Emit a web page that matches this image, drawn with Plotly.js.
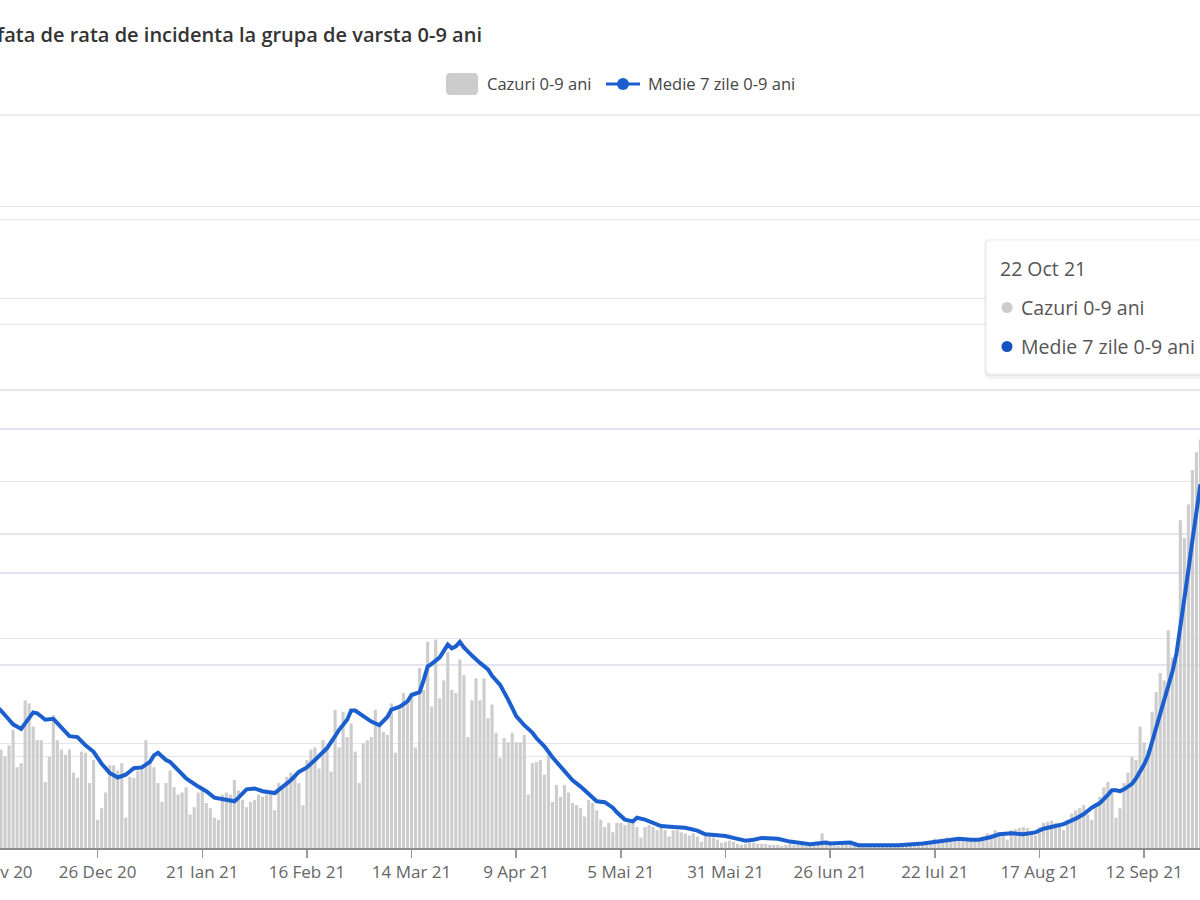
<!DOCTYPE html>
<html><head><meta charset="utf-8">
<script src="https://cdn.plot.ly/plotly-3.0.1.min.js"></script>
<style>
html,body{margin:0;padding:0;width:1200px;height:900px;overflow:hidden;background:#fff;}
#chart{position:absolute;left:-100px;top:0;width:1450px;height:900px;}
</style></head><body><div id="chart"></div>
<script>
// ---- Data: daily cases (bars), one array per month ----
const cazuriDec20 = [92,94,87,98,113,77,81,141,138,116,103,103,63,87,127,103,94,89,94,72,67,92,91,62,84,27,38,53,79,79,74];
const cazuriIan21 = [81,29,68,67,74,76,103,84,77,62,44,62,74,58,51,53,58,32,39,53,55,43,38,29,27,51,53,51,65,55,46];
const cazuriFeb21 = [39,44,46,51,49,51,51,36,62,58,68,72,68,62,41,84,94,96,76,103,96,73,132,96,130,106,119,92];
const cazuriMar21 = [62,100,103,106,132,116,111,108,138,91,132,148,138,146,96,172,151,197,135,199,143,160,187,151,148,180,165,106,141,162,141];
const cazuriApr21 = [162,124,137,110,86,105,101,110,101,101,108,51,81,82,84,70,89,44,60,49,60,53,43,41,38,30,46,43,36,27];
const cazuriMai21 = [20,24,15,24,24,22,24,25,20,10,20,22,20,17,20,17,11,17,17,15,14,12,14,11,6,11,11,10,8,5,6];
const cazuriIun21 = [7,6,4,3,4,5,5,4,4,4,3,3,3,2,3,4,3,3,3,2,2,3,4,14,4,3,2,2,3,3];
const cazuriIul21 = [3,3,3,2,2,3,3,3,3,3,2,2,3,4,4,4,4,3,3,5,5,9,7,7,10,6,8,10,9,9,9];
const cazuriAug21 = [8,6,11,14,13,17,15,12,8,17,18,19,20,19,15,12,20,24,25,26,24,20,17,27,33,36,38,41,32,27,43];
const cazuriSep21 = [49,58,63,53,29,38,62,72,87,84,116,101,94,130,149,167,160,208,182,180,313,296,328,361,378,390];
const monthStarts = ['2020-12','2021-01','2021-02','2021-03','2021-04','2021-05','2021-06','2021-07','2021-08','2021-09'];
const monthArrays = [cazuriDec20,cazuriIan21,cazuriFeb21,cazuriMar21,cazuriApr21,cazuriMai21,cazuriIun21,cazuriIul21,cazuriAug21,cazuriSep21];

// ---- 7-day average line ----
const medieDates = ['2020-12-01','2020-12-02','2020-12-04','2020-12-05','2020-12-07','2020-12-10','2020-12-11','2020-12-13','2020-12-15','2020-12-17','2020-12-19','2020-12-21','2020-12-23','2020-12-25','2020-12-27','2020-12-29','2020-12-31',
'2021-01-02','2021-01-04','2021-01-06','2021-01-08','2021-01-09','2021-01-10','2021-01-12','2021-01-13','2021-01-15','2021-01-17','2021-01-20','2021-01-22','2021-01-24','2021-01-27','2021-01-29','2021-01-30',
'2021-02-01','2021-02-03','2021-02-05','2021-02-08','2021-02-10','2021-02-12','2021-02-14','2021-02-16','2021-02-18','2021-02-21','2021-02-23','2021-02-24','2021-02-26','2021-02-27','2021-02-28',
'2021-03-01','2021-03-03','2021-03-04','2021-03-06','2021-03-07','2021-03-08','2021-03-09','2021-03-11','2021-03-12','2021-03-13','2021-03-14','2021-03-16','2021-03-17','2021-03-18','2021-03-19','2021-03-20','2021-03-21','2021-03-23','2021-03-24','2021-03-25','2021-03-26','2021-03-27','2021-03-28','2021-03-29','2021-03-31',
'2021-04-01','2021-04-02','2021-04-03','2021-04-05','2021-04-07','2021-04-09','2021-04-11','2021-04-13','2021-04-14','2021-04-16','2021-04-18','2021-04-20','2021-04-23','2021-04-25','2021-04-27','2021-04-29',
'2021-05-01','2021-05-03','2021-05-04','2021-05-06','2021-05-08','2021-05-09','2021-05-11','2021-05-13','2021-05-15','2021-05-18','2021-05-21','2021-05-24','2021-05-26','2021-05-29','2021-05-31',
'2021-06-03','2021-06-05','2021-06-07','2021-06-09','2021-06-13','2021-06-16','2021-06-21','2021-06-23','2021-06-25','2021-06-26','2021-06-30',
'2021-07-01','2021-07-03','2021-07-13','2021-07-19','2021-07-22','2021-07-25','2021-07-28','2021-07-31',
'2021-08-02','2021-08-05','2021-08-07','2021-08-10','2021-08-13','2021-08-16','2021-08-18','2021-08-21','2021-08-23','2021-08-26','2021-08-28','2021-08-30',
'2021-09-01','2021-09-03','2021-09-04','2021-09-05','2021-09-06','2021-09-07','2021-09-08','2021-09-09','2021-09-10','2021-09-11','2021-09-12','2021-09-13','2021-09-14','2021-09-15','2021-09-16','2021-09-17','2021-09-18','2021-09-19','2021-09-20','2021-09-21','2021-09-22','2021-09-23','2021-09-24','2021-09-25','2021-09-26'];
const medieValues = [154,150,140,135,130,148,147,140,141,132,122,121,112,105,92,82,77,
80,87,88,94,101,104,96,94,85,76,67,62,55,52,51,55,
64,65,62,60,67,74,83,88,96,109,122,129,140,150,150,
147,142,138,134,139,143,151,154,157,160,167,170,183,198,201,205,208,222,218,220,225,219,214,210,202,
199,195,188,178,162,144,134,126,120,111,99,89,74,67,59,51,
50,44,39,31,29,33,31,28,24,23,22,19,15,14,13,
10,8,9,11,10,7,4,5,6,5,6,
6,3,3,5,7,9,10,9,
9,12,15,16,15,17,21,24,26,32,37,44,
49,58,63,63,62,64,67,70,76,83,91,101,116,130,146,159,175,192,211,240,273,303,336,367,397];

// ---- Axis tick labels ----
const tickDates = ['2020-11-30','2020-12-26','2021-01-21','2021-02-16','2021-03-14','2021-04-09','2021-05-05','2021-05-31','2021-06-26','2021-07-22','2021-08-17','2021-09-12'];
const tickLabels = ['30 Nov 20','26 Dec 20','21 Ian 21','16 Feb 21','14 Mar 21','9 Apr 21','5 Mai 21','31 Mai 21','26 Iun 21','22 Iul 21','17 Aug 21','12 Sep 21'];

const titleText = 'fata de rata de incidenta la grupa de varsta 0-9 ani';
const nameBars = 'Cazuri 0-9 ani';
const nameLine = 'Medie 7 zile 0-9 ani';
const tooltipDate = '22 Oct 21';

// ---- build bar categories ----
const barDates = [], barValues = [];
monthArrays.forEach((arr, m) => {
  arr.forEach((v, i) => {
    barDates.push(monthStarts[m] + '-' + String(i + 1).padStart(2, '0'));
    barValues.push(v);
  });
});

// ---- geometry ----
const DIV_LEFT = -100, DIV_W = 1450, H = 900;
const ML = 60, MR = 50, MT = 115, MB = 52;
const plotLeft = DIV_LEFT + ML;
const plotW = DIV_W - ML - MR;
const plotH = H - MT - MB;
function px(x) { return (x - plotLeft) / plotW; }
function py(y) { return (H - MB - y) / plotH; }
const PXDAY = 4.025, REFX = 97.6;
const t0 = Date.UTC(2020, 11, 26);
function fmt(ms) { return new Date(ms).toISOString().replace('T', ' ').slice(0, 19); }
const xr = [fmt(t0 + (plotLeft - REFX) / PXDAY * 86400000), fmt(t0 + (plotLeft + plotW - REFX) / PXDAY * 86400000)];

const FONT = 'Open Sans, Noto Sans, sans-serif';
const BLUE = '#1b5fcf';
const GRID = '#e4e4ee';

const traces = [
  { type: 'bar', x: barDates, y: barValues, name: nameBars, yaxis: 'y',
    marker: { color: '#cdcdcd', line: { width: 0 } }, hoverinfo: 'skip' },
  { type: 'scatter', mode: 'lines', x: medieDates, y: medieValues, name: nameLine, yaxis: 'y2',
    line: { color: BLUE, width: 4 }, hoverinfo: 'skip' }
];

function rr(x0, y0, x1, y1, r) {
  const X = v => px(v), Y = v => py(v);
  return `M ${X(x0 + r)} ${Y(y0)} L ${X(x1 - r)} ${Y(y0)} Q ${X(x1)} ${Y(y0)} ${X(x1)} ${Y(y0 + r)} L ${X(x1)} ${Y(y1 - r)} Q ${X(x1)} ${Y(y1)} ${X(x1 - r)} ${Y(y1)} L ${X(x0 + r)} ${Y(y1)} Q ${X(x0)} ${Y(y1)} ${X(x0)} ${Y(y1 - r)} L ${X(x0)} ${Y(y0 + r)} Q ${X(x0)} ${Y(y0)} ${X(x0 + r)} ${Y(y0)} Z`;
}

const shapes = [
  // top grid line shared by both value axes
  { type: 'line', xref: 'paper', yref: 'paper', layer: 'below', x0: 0, x1: 1, y0: 1, y1: 1, line: { color: GRID, width: 1.5 } },
  // legend symbols
  { type: 'path', xref: 'paper', yref: 'paper', path: rr(446, 73, 478, 95, 4), fillcolor: '#cccccc', line: { width: 0 } },
  { type: 'line', xref: 'paper', yref: 'paper', x0: px(606), x1: px(640), y0: py(84), y1: py(84), line: { color: BLUE, width: 3 } },
  { type: 'circle', xref: 'paper', yref: 'paper', x0: px(617), x1: px(629), y0: py(78), y1: py(90), fillcolor: BLUE, line: { width: 0 } },
  // tooltip
  { type: 'path', xref: 'paper', yref: 'paper', layer: 'above', path: rr(985, 241, 1260, 379, 6), fillcolor: 'rgba(0,0,0,0.05)', line: { width: 0 } },
  { type: 'path', xref: 'paper', yref: 'paper', layer: 'above', path: rr(984, 239, 1258, 376, 5), fillcolor: 'rgba(0,0,0,0.04)', line: { width: 0 } },
  { type: 'path', xref: 'paper', yref: 'paper', layer: 'above', path: rr(986, 240, 1256, 374, 4), fillcolor: '#ffffff', line: { color: '#ececec', width: 1 } },
  { type: 'circle', xref: 'paper', yref: 'paper', layer: 'above', x0: px(1001.5), x1: px(1012.5), y0: py(302), y1: py(313), fillcolor: '#cccccc', line: { width: 0 } },
  { type: 'circle', xref: 'paper', yref: 'paper', layer: 'above', x0: px(1001.5), x1: px(1012.5), y0: py(341), y1: py(352), fillcolor: '#1553c0', line: { width: 0 } }
];

const annotations = [
  { xref: 'paper', yref: 'paper', x: px(485), y: py(84), xanchor: 'left', yanchor: 'middle', showarrow: false,
    text: nameBars, font: { family: FONT, size: 16.5, color: '#444' } },
  { xref: 'paper', yref: 'paper', x: px(646), y: py(84), xanchor: 'left', yanchor: 'middle', showarrow: false,
    text: nameLine, font: { family: FONT, size: 16.5, color: '#444' } },
  { xref: 'paper', yref: 'paper', x: px(998), y: py(268), xanchor: 'left', yanchor: 'middle', showarrow: false,
    text: tooltipDate, font: { family: FONT, size: 19.5, color: '#555' } },
  { xref: 'paper', yref: 'paper', x: px(1019), y: py(307), xanchor: 'left', yanchor: 'middle', showarrow: false,
    text: nameBars, font: { family: FONT, size: 19.5, color: '#555' } },
  { xref: 'paper', yref: 'paper', x: px(1019), y: py(346), xanchor: 'left', yanchor: 'middle', showarrow: false,
    text: nameLine, font: { family: FONT, size: 19.5, color: '#555' } }
];

const layout = {
  width: DIV_W, height: H,
  margin: { l: ML, r: MR, t: MT, b: MB },
  paper_bgcolor: '#ffffff', plot_bgcolor: '#ffffff',
  showlegend: false,
  bargap: 0.22,
  title: { text: titleText, xref: 'container', yref: 'container', x: (-3 - DIV_LEFT) / DIV_W, xanchor: 'left',
           y: 1 - 35 / H, yanchor: 'middle', font: { family: FONT, size: 20, color: '#333', weight: 600 } },
  xaxis: { type: 'date', range: xr, tickmode: 'array', tickvals: tickDates, ticktext: tickLabels,
           ticks: 'outside', ticklen: 8, tickwidth: 1.5, tickcolor: '#999', showline: true, linecolor: '#8c8c8c', linewidth: 1.5,
           showgrid: false, zeroline: false, tickfont: { family: FONT, size: 17, color: '#666' }, fixedrange: true },
  yaxis: { range: [0, 700], tick0: 0, dtick: 100, showgrid: true, gridcolor: GRID, gridwidth: 1.5,
           showticklabels: false, zeroline: false, ticks: '', fixedrange: true },
  yaxis2: { overlaying: 'y', side: 'right', range: [0, 800], tick0: 0, dtick: 100, showgrid: true, gridcolor: GRID, gridwidth: 1.5,
            showticklabels: false, zeroline: false, ticks: '', fixedrange: true },
  shapes: shapes,
  annotations: annotations
};

Plotly.newPlot('chart', traces, layout, { staticPlot: true, displayModeBar: false });
</script></body></html>
